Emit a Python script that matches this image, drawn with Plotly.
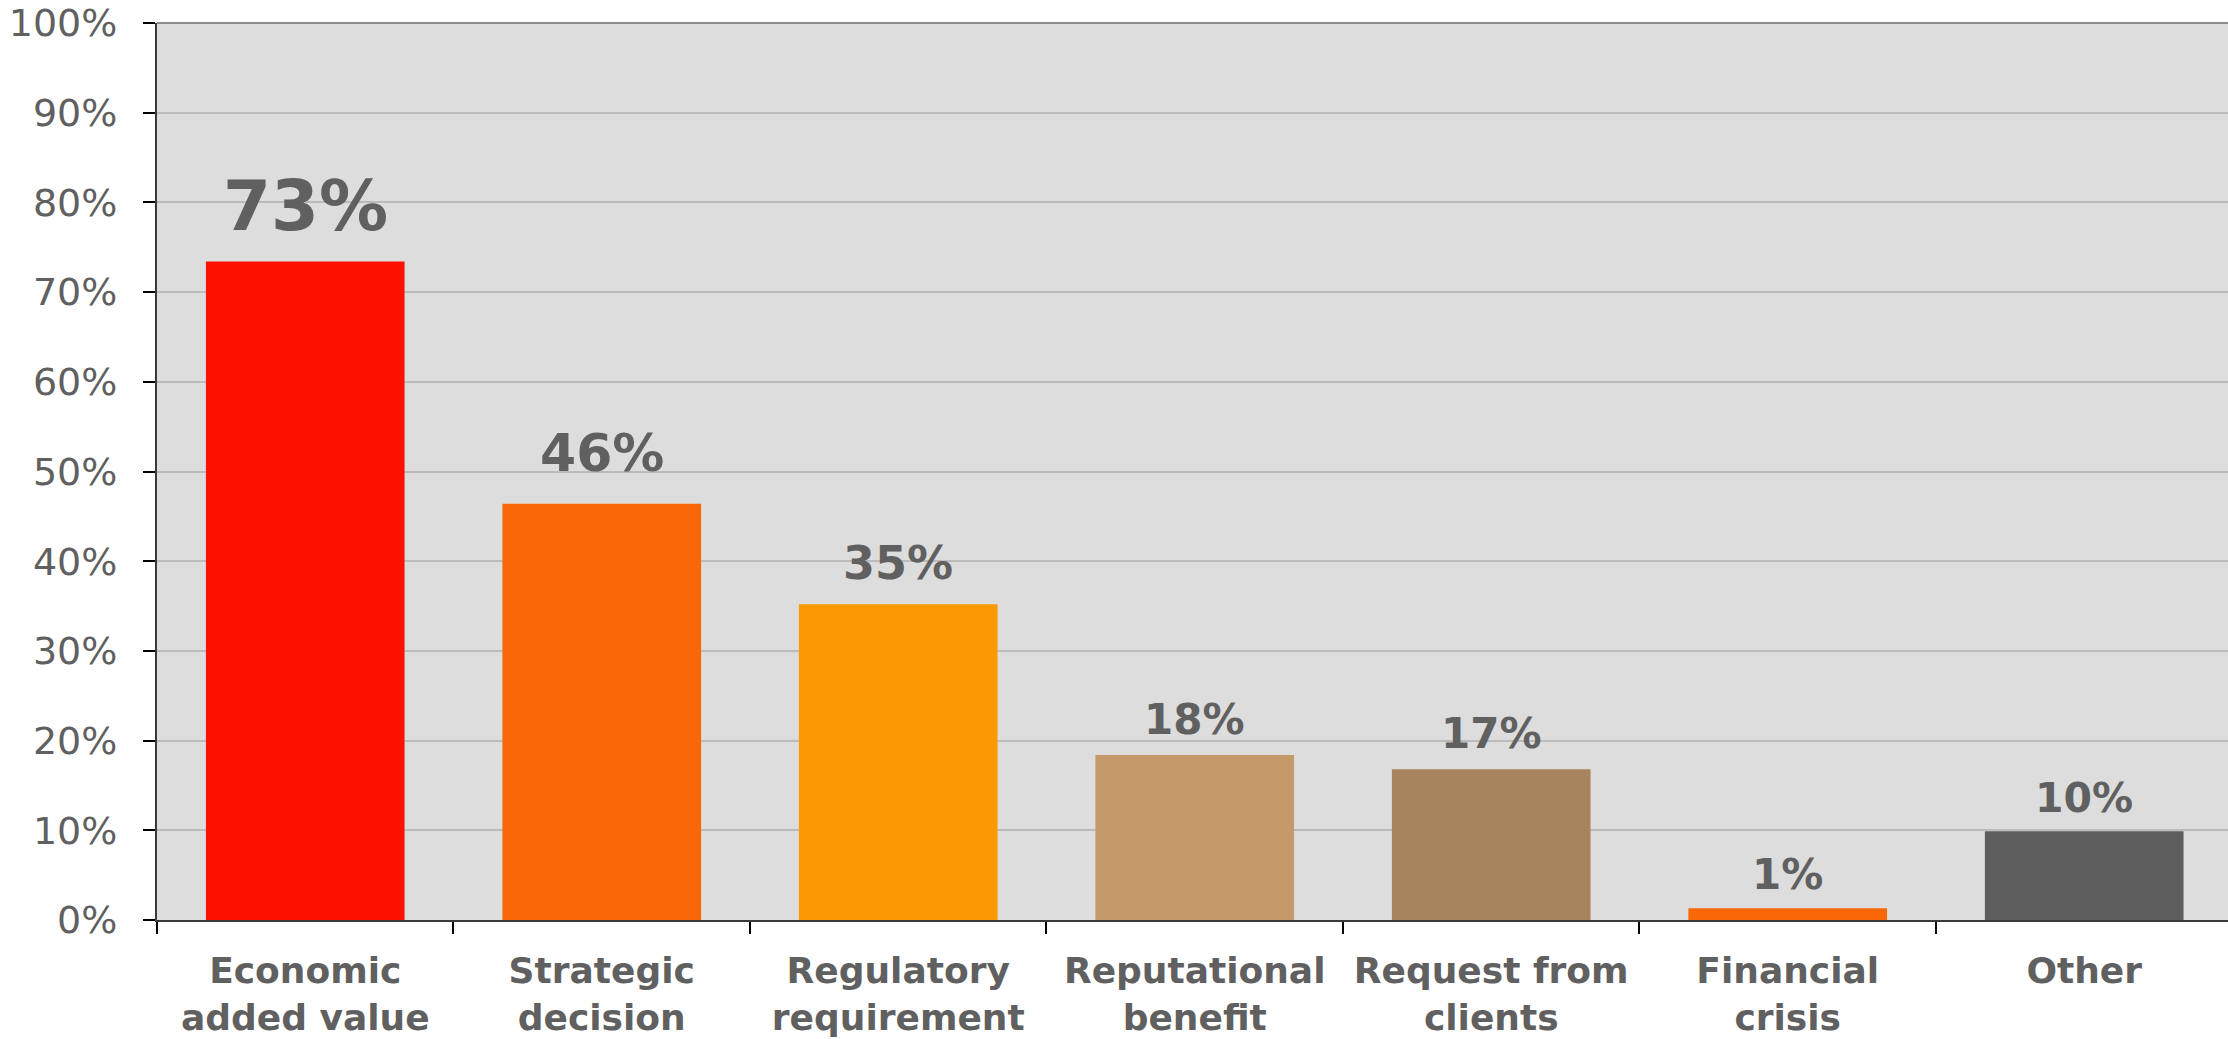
import plotly.graph_objects as go

# Reasons given, share of respondents (%)
categories = [
    "Economic<br>added value",
    "Strategic<br>decision",
    "Regulatory<br>requirement",
    "Reputational<br>benefit",
    "Request from<br>clients",
    "Financial<br>crisis",
    "Other",
]
shares = [73.4, 46.4, 35.2, 18.4, 16.8, 1.3, 9.9]

bar_colors = ["#FF1100", "#F96706", "#FB9900", "#C49A6A", "#A8845E", "#F96706", "#5E5E5E"]
label_sizes = [69, 52, 46, 42, 42, 42, 41]
label_lift = [14, 19, 12, 9, 9, 7, 7]

TEXT_GREY = "#606060"
FONT = "DejaVu Sans"

fig = go.Figure(
    go.Bar(
        x=categories,
        y=shares,
        marker=dict(color=bar_colors, line=dict(width=0)),
        hoverinfo="skip",
    )
)

# value labels above each bar
for cat, val, size, lift in zip(categories, shares, label_sizes, label_lift):
    fig.add_annotation(
        x=cat, y=val, xref="x", yref="y",
        text=f"<b>{val:.0f}%</b>",
        showarrow=False,
        yanchor="bottom",
        yshift=lift,
        font=dict(family=FONT, size=size, color=TEXT_GREY),
    )

fig.update_layout(
    width=2228,
    height=1039,
    margin=dict(l=157, r=0, t=23, b=119, autoexpand=False),
    paper_bgcolor="white",
    plot_bgcolor="#DDDDDD",
    bargap=0.33,
    showlegend=False,
    font=dict(family=FONT, color=TEXT_GREY),
)

fig.update_xaxes(
    type="category",
    range=[-0.5, 6.485],
    tickson="boundaries",
    ticks="outside",
    ticklen=12,
    tickwidth=1.5,
    tickcolor="#000000",
    showline=True,
    linecolor="#3A3A3A",
    linewidth=2,
    showgrid=False,
    automargin=False,
    tickfont=dict(family=FONT, size=36, color=TEXT_GREY, weight="bold"),
    ticklabelstandoff=18,
)

fig.update_yaxes(
    range=[0, 100],
    dtick=10,
    ticksuffix="%",
    ticks="outside",
    ticklen=12,
    tickwidth=1.5,
    tickcolor="#000000",
    showline=True,
    linecolor="#3A3A3A",
    linewidth=2,
    showgrid=True,
    gridcolor="#BBBBBB",
    gridwidth=1.5,
    zeroline=False,
    automargin=False,
    tickfont=dict(family=FONT, size=38, color=TEXT_GREY),
    ticklabelstandoff=18,
)

# darker rule along the top edge of the plotting area
fig.add_shape(
    type="line", xref="paper", yref="paper",
    x0=0, x1=1, y0=1, y1=1,
    line=dict(color="#8C8C8C", width=2),
)

fig.write_html("out.html")
